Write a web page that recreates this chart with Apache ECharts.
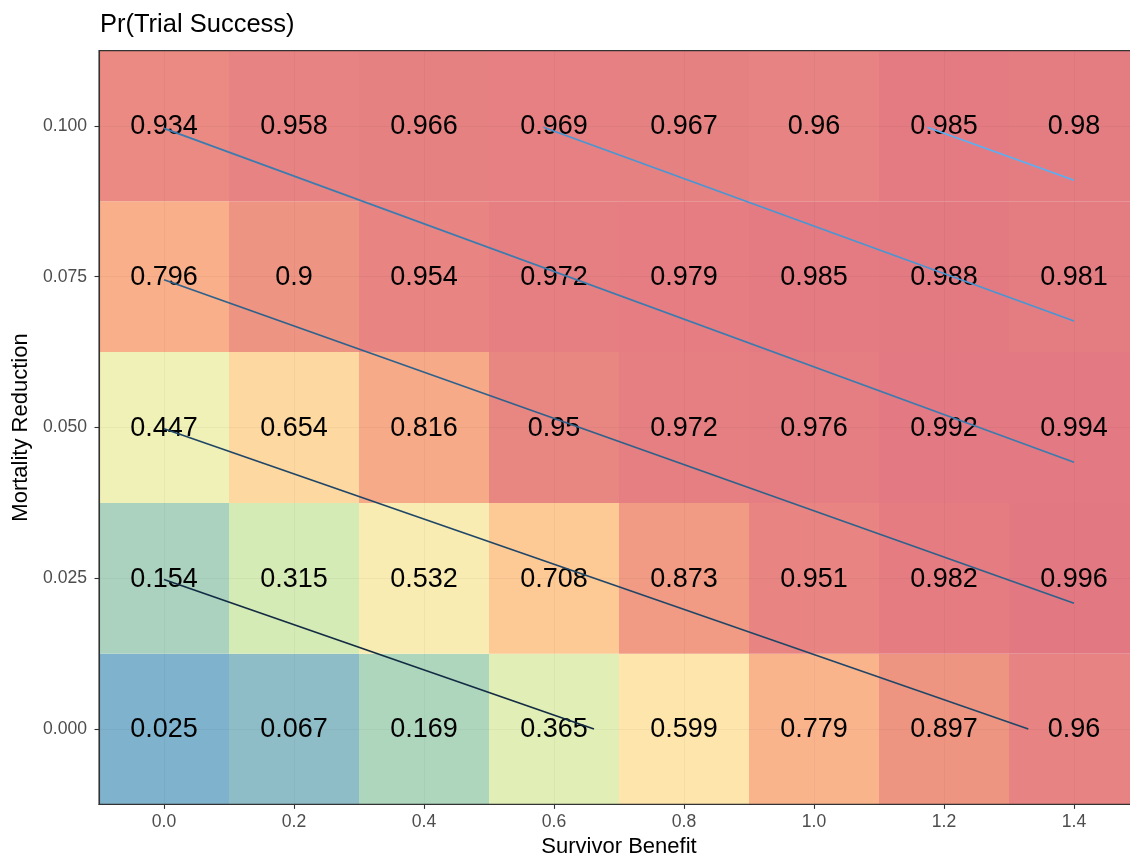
<!DOCTYPE html>
<html>
<head>
<meta charset="utf-8">
<title>Pr(Trial Success)</title>
<script src="https://cdn.jsdelivr.net/npm/echarts@6/dist/echarts.min.js"></script>
<style>
  html, body { margin: 0; padding: 0; background: #ffffff; }
  #chart { width: 1130px; height: 857px; }
</style>
</head>
<body>
<div id="chart"></div>
<script>
// Grid of design scenarios
const survivorBenefit = [0.0, 0.2, 0.4, 0.6, 0.8, 1.0, 1.2, 1.4];
const mortalityReduction = [0.000, 0.025, 0.050, 0.075, 0.100];

// Probability of trial success, one row per mortality reduction level
const successMR000 = [0.025, 0.067, 0.169, 0.365, 0.599, 0.779, 0.897, 0.96];
const successMR025 = [0.154, 0.315, 0.532, 0.708, 0.873, 0.951, 0.982, 0.996];
const successMR050 = [0.447, 0.654, 0.816, 0.95, 0.972, 0.976, 0.992, 0.994];
const successMR075 = [0.796, 0.9, 0.954, 0.972, 0.979, 0.985, 0.988, 0.981];
const successMR100 = [0.934, 0.958, 0.966, 0.969, 0.967, 0.96, 0.985, 0.98];
const successRows = [successMR000, successMR025, successMR050, successMR075, successMR100];

// Iso-lines (survivor benefit, mortality reduction) end points
const isoLine1 = [[0.0, 0.0248], [0.6615, 0.0]];
const isoLine2 = [[0.0, 0.0498], [1.3297, 0.0]];
const isoLine3 = [[0.0, 0.0745], [1.4, 0.02085]];
const isoLine4 = [[0.0, 0.0996], [1.4, 0.04423]];
const isoLine5 = [[0.5836, 0.0998], [1.4, 0.06766]];
const isoLine6 = [[1.1743, 0.0998], [1.4, 0.0910]];
const isoLines = [isoLine1, isoLine2, isoLine3, isoLine4, isoLine5, isoLine6];
const isoColors = ['#132B43', '#204667', '#2E618B', '#3B7BAF', '#4996D3', '#56B1F7'];

// Fill scale (low = blue, high = red)
const fillPalette = ['#76ABCF', '#9AC6C4', '#B7DDBA', '#D1EAB5', '#EAF1B6', '#F6F0B5',
                     '#FDE5AB', '#FDCC97', '#F9AE89', '#EE9482', '#E27782'];

const FONT = '"Liberation Sans", Arial, Helvetica, sans-serif';

const cells = [];
mortalityReduction.forEach((mr, i) => {
  survivorBenefit.forEach((sb, j) => {
    cells.push([sb, mr, successRows[i][j]]);
  });
});

const halfX = (survivorBenefit[1] - survivorBenefit[0]) / 2;
const halfY = (mortalityReduction[1] - mortalityReduction[0]) / 2;

const chart = echarts.init(document.getElementById('chart'), null, { renderer: 'canvas' });

const lineSeries = isoLines.map((pts, k) => ({
  type: 'line',
  data: pts,
  symbol: 'none',
  showSymbol: false,
  z: 6,
  silent: true,
  lineStyle: { color: isoColors[k], width: 1.7 }
}));

const axisLineStyle = { show: true, onZero: false, lineStyle: { color: '#333333', width: 1.1 } };

chart.setOption({
  animation: false,
  backgroundColor: '#ffffff',
  title: {
    text: 'Pr(Trial Success)',
    left: 95,
    top: 7,
    textStyle: { fontFamily: FONT, fontSize: 25.5, fontWeight: 'normal', color: '#000000' }
  },
  grid: {
    left: 99,
    top: 50.6,
    width: 1040,
    height: 753.8,
    show: true,
    backgroundColor: 'transparent',
    borderColor: '#333333',
    borderWidth: 1.1,
    z: 10,
    outerBoundsMode: 'none'
  },
  visualMap: {
    show: false,
    type: 'continuous',
    min: 0,
    max: 1,
    dimension: 2,
    seriesIndex: 0,
    inRange: { color: fillPalette }
  },
  xAxis: {
    type: 'value',
    min: -0.1,
    max: 1.5,
    interval: 0.1,
    z: 3,
    name: 'Survivor Benefit',
    nameLocation: 'middle',
    nameGap: 31,
    nameTextStyle: { fontFamily: FONT, fontSize: 22, color: '#000000' },
    axisLine: axisLineStyle,
    axisTick: { show: true, customValues: survivorBenefit, length: 4.5, lineStyle: { color: '#333333', width: 1.1 } },
    axisLabel: {
      customValues: survivorBenefit,
      formatter: v => v.toFixed(1),
      margin: 9,
      fontFamily: FONT, fontSize: 17.6, color: '#4D4D4D'
    },
    splitLine: { show: true, lineStyle: { color: 'rgba(0,0,0,0.035)', width: 1 } }
  },
  yAxis: {
    type: 'value',
    min: -0.0125,
    max: 0.1125,
    interval: 0.0125,
    z: 3,
    name: 'Mortality Reduction',
    nameLocation: 'middle',
    nameGap: 67,
    nameRotate: 90,
    nameTextStyle: { fontFamily: FONT, fontSize: 22, color: '#000000' },
    axisLine: axisLineStyle,
    axisTick: { show: true, customValues: mortalityReduction, length: 4.5, lineStyle: { color: '#333333', width: 1.1 } },
    axisLabel: {
      customValues: mortalityReduction,
      formatter: v => v.toFixed(3),
      margin: 12,
      fontFamily: FONT, fontSize: 17.6, color: '#4D4D4D'
    },
    splitLine: { show: true, lineStyle: { color: 'rgba(0,0,0,0.035)', width: 1 } }
  },
  series: [
    {
      type: 'custom',
      z: 1,
      silent: true,
      data: cells,
      encode: { x: 0, y: 1 },
      renderItem: (params, api) => {
        const sb = api.value(0), mr = api.value(1);
        const p0 = api.coord([sb - halfX, mr + halfY]);
        const p1 = api.coord([sb + halfX, mr - halfY]);
        return {
          type: 'rect',
          shape: { x: p0[0], y: p0[1], width: p1[0] - p0[0], height: p1[1] - p0[1] },
          style: { fill: api.visual('color') }
        };
      }
    },
    {
      type: 'custom',
      z: 5,
      silent: true,
      data: cells,
      encode: { x: 0, y: 1 },
      renderItem: (params, api) => {
        const p = api.coord([api.value(0), api.value(1)]);
        return {
          type: 'text',
          x: p[0],
          y: p[1] + 1,
          style: {
            text: String(api.value(2)),
            fontFamily: FONT,
            fontSize: 27,
            fill: '#000000',
            align: 'center',
            verticalAlign: 'middle'
          }
        };
      }
    },
    ...lineSeries
  ]
});
</script>
</body>
</html>
